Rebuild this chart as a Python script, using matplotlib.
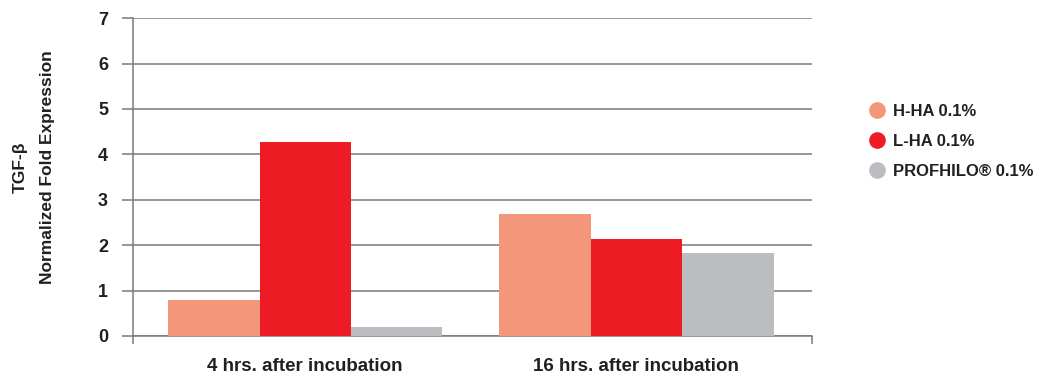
import matplotlib
matplotlib.use("Agg")
import matplotlib.pyplot as plt
from matplotlib.lines import Line2D
import numpy as np

categories = ["4 hrs. after incubation", "16 hrs. after incubation"]
series = ["H-HA 0.1%", "L-HA 0.1%", "PROFHILO\u00ae 0.1%"]
h_ha = [0.79, 2.69]
l_ha = [4.27, 2.14]
profhilo = [0.20, 1.83]
colors = ["#F4967A", "#ED1C24", "#BCBDC1"]
y_ticks = [0, 1, 2, 3, 4, 5, 6, 7]

plt.rcParams["font.family"] = ["Liberation Sans", "DejaVu Sans"]
plt.rcParams["font.weight"] = "bold"

fig = plt.figure(figsize=(10.45, 3.77), dpi=100)
ax = fig.add_axes([0.1273, 0.1088, 0.777 - 0.1273, 0.952 - 0.1088])

x = np.arange(len(categories))
w = 0.276
grid_c = "#7a7a7a"
for i, (vals, c) in enumerate(zip([h_ha, l_ha, profhilo], colors)):
    ax.bar(x + (i - 1) * w, vals, width=w, color=c, zorder=3)

ax.set_xlim(-0.52, 1.53)
ax.set_ylim(0, 7)
ax.set_yticks(y_ticks)
ax.set_yticklabels([str(t) for t in y_ticks], fontsize=13, fontweight="bold", color="#231F20")
ax.yaxis.grid(True, color=grid_c, linewidth=1.1, zorder=1)
ax.tick_params(axis="y", length=8, width=1.1, color=grid_c, pad=10)

ax.set_xticks(x)
ax.set_xticklabels(categories, fontsize=13.5, fontweight="bold", color="#231F20")
ax.set_xticks([-0.52, 1.53], minor=True)
ax.tick_params(axis="x", which="major", length=0, pad=16)
ax.tick_params(axis="x", which="minor", length=6, width=1.1, color=grid_c)

for s in ["top", "right"]:
    ax.spines[s].set_visible(False)
ax.spines["left"].set_color(grid_c)
ax.spines["left"].set_linewidth(1.1)
ax.spines["bottom"].set_color(grid_c)
ax.spines["bottom"].set_linewidth(1.1)

fig.text(0.019, 0.557, "TGF-\u03b2", rotation=90, ha="center", va="center",
         fontsize=12.5, fontweight="bold", color="#231F20")
fig.text(0.045, 0.557, "Normalized Fold Expression", rotation=90, ha="center", va="center",
         fontsize=12.5, fontweight="bold", color="#231F20")

handles = [Line2D([0], [0], marker="o", linestyle="", markersize=11,
                  markerfacecolor=c, markeredgecolor=c) for c in colors]
fig.legend(handles, series, loc="center left", bbox_to_anchor=(0.826, 0.625),
           frameon=False, prop={"size": 12, "weight": "bold"},
           handletextpad=0.4, labelspacing=0.88, handlelength=1.2,
           borderaxespad=0, borderpad=0.2, labelcolor="#231F20")

fig.savefig("out.png", dpi=100)
